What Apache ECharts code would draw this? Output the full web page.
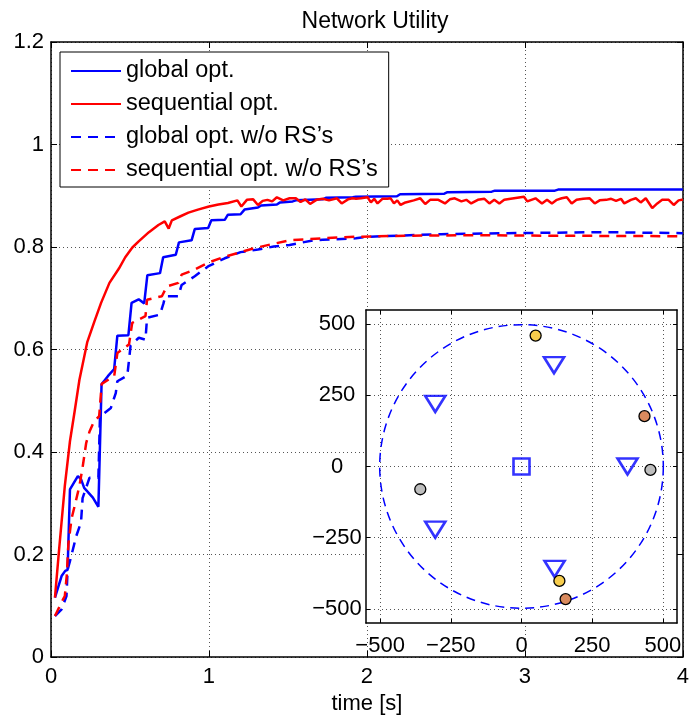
<!DOCTYPE html>
<html>
<head>
<meta charset="utf-8">
<script src="https://cdn.jsdelivr.net/npm/echarts@6/dist/echarts.min.js"></script>
<style>
  html, body { margin: 0; padding: 0; background: #fff; }
  #chart { width: 692px; height: 720px; }
</style>
</head>
<body>
<div id="chart"></div>
<script>
// Network utility over time, [time (s), utility]
const globalOpt = [
  [0.025,0.116],[0.067,0.158],[0.09,0.168],[0.105,0.17],[0.12,0.327],[0.17,0.353],[0.19,0.347],
  [0.21,0.33],[0.265,0.311],[0.3,0.293],[0.32,0.532],[0.36,0.548],[0.4,0.562],[0.42,0.627],
  [0.49,0.628],[0.51,0.691],[0.555,0.698],[0.59,0.69],[0.61,0.745],[0.69,0.749],[0.71,0.78],
  [0.79,0.785],[0.81,0.809],[0.89,0.813],[0.91,0.835],[0.995,0.837],[1.015,0.852],[1.1,0.853],
  [1.12,0.863],[1.2,0.864],[1.225,0.873],[1.31,0.877],[1.33,0.881],[1.43,0.883],[1.45,0.887],
  [1.53,0.889],[1.55,0.891],[1.72,0.893],[1.74,0.896],[1.91,0.897],[1.93,0.898],[2.19,0.899],
  [2.21,0.903],[2.49,0.904],[2.51,0.907],[2.79,0.908],[2.81,0.91],[3.19,0.91],[3.21,0.912],[4.0,0.912]
];

const sequentialOpt = [
  [0.025,0.116],[0.05,0.205],[0.0875,0.334],[0.12,0.421],[0.15,0.48],[0.18,0.541],
  [0.23,0.615],[0.275,0.655],[0.317,0.691],[0.37,0.73],[0.43,0.758],[0.47,0.78],[0.515,0.799],
  [0.555,0.811],[0.62,0.829],[0.68,0.843],[0.72,0.85],[0.745,0.836],[0.765,0.852],[0.82,0.86],
  [0.87,0.867],[0.93,0.873],[1.0,0.879],[1.06,0.883],[1.12,0.886],[1.18,0.891],[1.205,0.879],
  [1.24,0.892],[1.28,0.893],[1.31,0.882],[1.34,0.89],[1.37,0.892],[1.4,0.889],[1.43,0.897],
  [1.47,0.891],[1.51,0.895],[1.55,0.895],[1.58,0.888],[1.61,0.893],[1.64,0.884],[1.68,0.892],
  [1.72,0.894],[1.76,0.891],[1.81,0.895],[1.84,0.885],[1.88,0.893],[1.91,0.895],[1.931,0.894],
  [1.962,0.895],[2.004,0.897],[2.025,0.887],[2.046,0.894],[2.067,0.885],[2.098,0.894],[2.129,0.894],
  [2.15,0.895],[2.171,0.885],[2.192,0.891],[2.213,0.882],[2.244,0.887],[2.296,0.891],[2.338,0.895],
  [2.369,0.884],[2.4,0.892],[2.452,0.892],[2.494,0.885],[2.525,0.893],[2.556,0.895],[2.598,0.889],
  [2.629,0.892],[2.66,0.885],[2.702,0.892],[2.744,0.894],[2.775,0.885],[2.806,0.892],[2.838,0.885],
  [2.869,0.892],[2.91,0.894],[2.973,0.897],[2.994,0.898],[3.015,0.889],[3.067,0.895],[3.108,0.885],
  [3.14,0.892],[3.171,0.885],[3.202,0.892],[3.233,0.895],[3.265,0.897],[3.296,0.885],[3.327,0.892],
  [3.369,0.894],[3.41,0.895],[3.442,0.885],[3.473,0.891],[3.515,0.892],[3.546,0.894],[3.577,0.89],
  [3.608,0.894],[3.629,0.885],[3.671,0.892],[3.702,0.895],[3.733,0.887],[3.765,0.895],[3.806,0.876],
  [3.838,0.885],[3.869,0.892],[3.91,0.892],[3.942,0.882],[3.973,0.891],[3.994,0.892],[4.0,0.892]
];

const globalOptNoRS = [
  [0.025,0.08],[0.067,0.093],[0.098,0.119],[0.105,0.17],[0.12,0.187],[0.16,0.236],[0.19,0.263],
  [0.2,0.31],[0.244,0.35],[0.3,0.35],[0.31,0.47],[0.338,0.476],[0.379,0.486],[0.41,0.515],
  [0.42,0.538],[0.483,0.549],[0.504,0.608],[0.556,0.623],[0.598,0.619],[0.608,0.662],[0.69,0.668],
  [0.712,0.69],[0.723,0.704],[0.806,0.704],[0.827,0.726],[0.91,0.743],[0.994,0.762],[1.1,0.778],
  [1.2,0.79],[1.31,0.795],[1.41,0.801],[1.51,0.804],[1.66,0.813],[1.72,0.814],[1.93,0.817],
  [2.0,0.82],[2.47,0.825],[2.89,0.827],[3.51,0.829],[4.0,0.827]
];

const sequentialOptNoRS = [
  [0.025,0.08],[0.077,0.113],[0.0875,0.119],[0.1,0.16],[0.11,0.22],[0.13,0.27],[0.15,0.295],
  [0.18,0.334],[0.2,0.37],[0.223,0.418],[0.244,0.44],[0.27,0.458],[0.305,0.47],[0.321,0.533],
  [0.4,0.548],[0.42,0.593],[0.494,0.61],[0.514,0.652],[0.598,0.665],[0.608,0.697],[0.702,0.704],
  [0.733,0.723],[0.806,0.73],[0.827,0.746],[0.91,0.756],[1.0,0.77],[1.1,0.781],[1.18,0.788],
  [1.28,0.797],[1.39,0.805],[1.51,0.813],[1.62,0.815],[1.72,0.817],[1.93,0.82],[2.26,0.822],
  [2.7,0.823],[3.2,0.822],[4.0,0.821]
];

// Cell layout (metres): base station, relay stations, users, cell edge
const baseStation = [[0, 0]];
const relayStations = [[375, 0], [115, 356], [-305, 220], [-305, -222], [117, -360]];
const usersYellow = [[50, 460], [134, -402]];
const usersOrange = [[435, 177], [156, -466]];
const usersGrey = [[456, -12], [-358, -80]];
const cellRadius = 500;
const insetTicks = [-500, -250, 0, 250, 500];

const FONT = "'Liberation Sans', Arial, Helvetica, sans-serif";
const BLUE = '#0000ff';
const RED = '#ff0000';
const DOTTED = { show: true, lineStyle: { color: '#555', width: 1, type: [1, 3] } };
const minus = v => (v < 0 ? '\u2212' + (-v) : String(v));

function mainAxisCommon() {
  return {
    type: 'value',
    gridIndex: 0,
    axisLine: { show: true, onZero: false, lineStyle: { color: '#000', width: 1.5 } },
    axisTick: { show: true, inside: true, length: 6, lineStyle: { color: '#000', width: 1 } }
  };
}
function insetAxisCommon() {
  return {
    type: 'value',
    gridIndex: 1,
    min: -550,
    max: 550,
    z: 11,
    axisLine: { show: true, onZero: false, lineStyle: { color: '#000', width: 1.5 } },
    axisTick: { show: true, inside: true, length: 4, customValues: insetTicks, lineStyle: { color: '#000', width: 1 } }
  };
}

const chart = echarts.init(document.getElementById('chart'), null, { renderer: 'canvas' });

const lineSeries = (name, data, color, dashed) => ({
  name, type: 'line', data,
  xAxisIndex: 0, yAxisIndex: 0,
  symbol: 'none', showSymbol: false, silent: true, z: 2,
  lineStyle: { color, width: 2.5, type: dashed ? [10, 7] : 'solid' },
  itemStyle: { color }
});

const markerStyle = { color: 'rgba(0,0,0,0)', borderColor: BLUE, borderWidth: 2.6 };
const userSeries = (data, color) => ({
  type: 'scatter', data, xAxisIndex: 2, yAxisIndex: 2, z: 13, silent: true,
  symbol: 'circle', symbolSize: 11,
  itemStyle: { color, borderColor: '#000', borderWidth: 1.3, opacity: 1 }
});

chart.setOption({
  animation: false,
  backgroundColor: '#fff',
  textStyle: { fontFamily: FONT, color: '#000' },
  title: {
    text: 'Network Utility',
    left: 370, top: 5, textAlign: 'center',
    textStyle: { fontFamily: FONT, fontSize: 23, fontWeight: 'normal', color: '#000' }
  },
  legend: {
    orient: 'vertical',
    left: 60, top: 52,
    padding: [7, 11, 5, 10],
    itemGap: 9,
    itemWidth: 50, itemHeight: 14,
    backgroundColor: '#fff',
    borderColor: '#000', borderWidth: 1,
    itemStyle: { opacity: 0 },
    textStyle: { fontFamily: FONT, fontSize: 23.5, lineHeight: 23, color: '#000' },
    selectedMode: false,
    data: ['global opt.', 'sequential opt.', 'global opt. w/o RS\u2019s', 'sequential opt. w/o RS\u2019s']
  },
  grid: [
    { left: 51, right: 2, top: 42, bottom: 62, show: false },
    { left: 366, top: 310, width: 311, height: 313, show: true, z: 10,
      backgroundColor: '#fff', borderColor: '#000', borderWidth: 0 }
  ],
  xAxis: [
    Object.assign(mainAxisCommon(), {
      position: 'bottom', min: 0, max: 4, interval: 1,
      name: 'time [s]', nameLocation: 'middle', nameGap: 36,
      nameTextStyle: { fontFamily: FONT, fontSize: 22, color: '#000' },
      axisLabel: { show: true, fontFamily: FONT, fontSize: 22, color: '#000', margin: 9 },
      splitLine: DOTTED
    }),
    Object.assign(mainAxisCommon(), {
      position: 'top', min: 0, max: 4, interval: 1,
      axisLabel: { show: false }, splitLine: { show: false }
    }),
    Object.assign(insetAxisCommon(), {
      position: 'bottom',
      axisLabel: { show: true, customValues: insetTicks, formatter: minus,
        fontFamily: FONT, fontSize: 22, color: '#000', margin: 12 },
      splitLine: DOTTED
    }),
    Object.assign(insetAxisCommon(), {
      position: 'top', axisLabel: { show: false }, splitLine: { show: false }
    })
  ],
  yAxis: [
    Object.assign(mainAxisCommon(), {
      position: 'left', min: 0, max: 1.2, interval: 0.2,
      axisLabel: { show: true, fontFamily: FONT, fontSize: 22, color: '#000', margin: 7 },
      splitLine: DOTTED
    }),
    Object.assign(mainAxisCommon(), {
      position: 'right', min: 0, max: 1.2, interval: 0.2,
      axisLabel: { show: false }, splitLine: { show: false }
    }),
    Object.assign(insetAxisCommon(), {
      position: 'left',
      axisLabel: { show: true, customValues: insetTicks, formatter: minus, align: 'center',
        fontFamily: FONT, fontSize: 22, color: '#000', margin: 29 },
      splitLine: DOTTED
    }),
    Object.assign(insetAxisCommon(), {
      position: 'right', axisLabel: { show: false }, splitLine: { show: false }
    })
  ],
  series: [
    lineSeries('global opt.', globalOpt, BLUE, false),
    lineSeries('sequential opt.', sequentialOpt, RED, false),
    lineSeries('global opt. w/o RS\u2019s', globalOptNoRS, BLUE, true),
    lineSeries('sequential opt. w/o RS\u2019s', sequentialOptNoRS, RED, true),
    {
      // dashed cell edge around the base station
      type: 'custom', xAxisIndex: 2, yAxisIndex: 2, z: 12, silent: true,
      data: [[0, 0, cellRadius]],
      renderItem: (params, api) => {
        const c = api.coord([api.value(0), api.value(1)]);
        const s = api.size([api.value(2), api.value(2)]);
        return {
          type: 'circle',
          shape: { cx: c[0], cy: c[1], r: (s[0] + s[1]) / 2 },
          style: { fill: 'none', stroke: BLUE, lineWidth: 1.5, lineDash: [9, 6] }
        };
      }
    },
    {
      type: 'scatter', data: baseStation, xAxisIndex: 2, yAxisIndex: 2, z: 13, silent: true,
      symbol: 'rect', symbolSize: 16, itemStyle: markerStyle
    },
    {
      type: 'scatter', data: relayStations, xAxisIndex: 2, yAxisIndex: 2, z: 13, silent: true,
      symbol: 'triangle', symbolRotate: 180, symbolSize: [20, 16], itemStyle: markerStyle
    },
    userSeries(usersYellow, '#f7cd4d'),
    userSeries(usersOrange, '#d98a5e'),
    userSeries(usersGrey, '#bdbdbd')
  ]
});
</script>
</body>
</html>
